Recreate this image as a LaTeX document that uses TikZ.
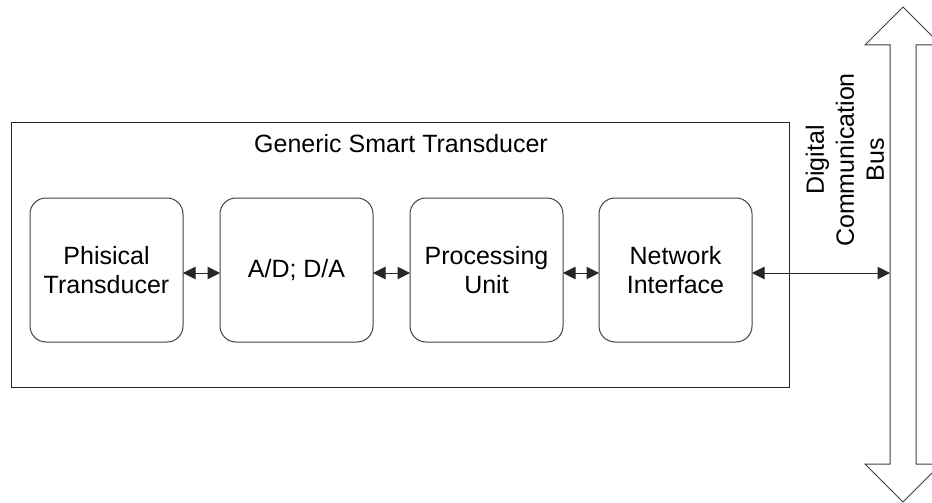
\documentclass[tikz,border=0pt]{standalone}
\usepackage{fontspec}
\setmainfont{Liberation Sans}
\usetikzlibrary{arrows.meta}
\begin{document}
\begin{tikzpicture}[x=1pt,y=-1pt,
  txt/.style={font=\fontsize{25}{29}\selectfont, align=center, text=black},
  outerbox/.style={draw=black!85, line width=1pt, minimum width=778pt, minimum height=265pt, inner sep=0pt, outer sep=0pt},
  block/.style={draw=black!75, line width=1pt, rounded corners=16pt, minimum width=153pt, minimum height=144pt, inner sep=0pt, outer sep=0pt, txt},
  link/.style={line width=1pt, draw=black!85, {Triangle[length=12.5pt,width=12.5pt]}-{Triangle[length=12.5pt,width=12.5pt]}},
  bus/.style={draw=black!75, line width=1pt, fill=white}
]
\useasboundingbox (0,0) rectangle (932,503);
\clip (0,0) rectangle (932,503);
\node[outerbox] (outer) at (400,254.5) {};
\node[txt] (title) at (401,144) {Generic Smart Transducer};
\node[block] (b1) at (106.5,270) {Phisical\\Transducer};
\node[block] (b2) at (296.5,270) {A/D; D/A};
\node[block] (b3) at (486.5,270) {Processing\\Unit};
\node[block] (b4) at (675.5,270) {Network\\Interface};
\draw[bus] (890,45) -- (865,45) -- (903,7) -- (941,45) -- (916,45) -- (916,464) -- (941,464) -- (903,502) -- (865,464) -- (890,464) -- cycle;
\coordinate (busin) at (890,273);
\node[txt, rotate=90, font=\fontsize{25}{30}\selectfont] (label) at (845,160) {Digital\\Communication\\Bus};
\draw[link] ([yshift=-3pt]b1.east) -- ([yshift=-3pt]b2.west);
\draw[link] ([yshift=-3pt]b2.east) -- ([yshift=-3pt]b3.west);
\draw[link] ([yshift=-3pt]b3.east) -- ([yshift=-3pt]b4.west);
\draw[link] ([yshift=-3pt]b4.east) -- (busin);
\end{tikzpicture}
\end{document}
